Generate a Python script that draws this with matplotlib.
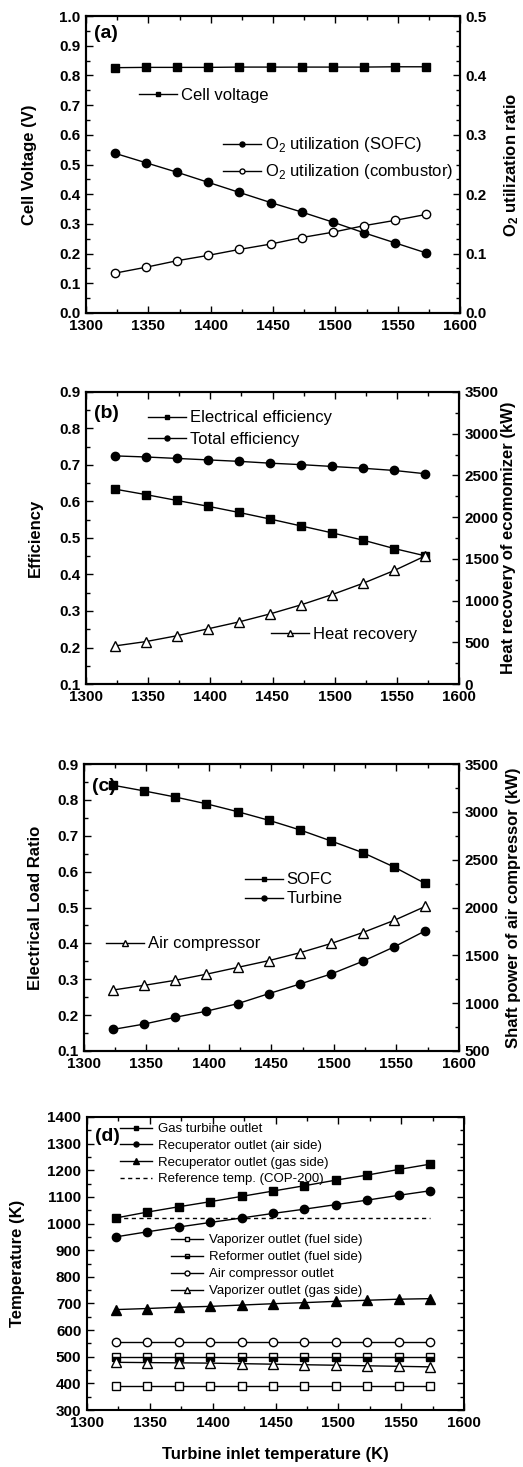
import matplotlib
matplotlib.use('Agg')
from matplotlib import pyplot as plt
from matplotlib.legend import Legend
from matplotlib.ticker import MultipleLocator

plt.rcParams['font.family'] = ['Liberation Sans', 'DejaVu Sans']
plt.rcParams['mathtext.fontset'] = 'custom'
plt.rcParams['mathtext.rm'] = 'Liberation Sans'
plt.rcParams['mathtext.bf'] = 'Liberation Sans:bold'

# turbine inlet temperature (K)
T = [1323, 1348, 1373, 1398, 1423, 1448, 1473, 1498, 1523, 1548, 1573]

# (a)
cell_v = [0.826, 0.827, 0.827, 0.827, 0.828, 0.828, 0.828, 0.828, 0.828, 0.829, 0.829]
o2_sofc = [0.269, 0.253, 0.237, 0.220, 0.203, 0.186, 0.170, 0.153, 0.135, 0.118, 0.101]
o2_comb = [0.067, 0.077, 0.088, 0.097, 0.107, 0.116, 0.127, 0.136, 0.147, 0.156, 0.166]

# (b)
eff_el = [0.634, 0.619, 0.603, 0.587, 0.570, 0.552, 0.533, 0.514, 0.494, 0.471, 0.451]
eff_tot = [0.725, 0.722, 0.718, 0.714, 0.710, 0.705, 0.701, 0.696, 0.691, 0.685, 0.676]
heat_rec = [456, 508, 578, 661, 744, 840, 949, 1072, 1208, 1361, 1536]

# (c)
load_sofc = [0.841, 0.825, 0.808, 0.789, 0.767, 0.743, 0.716, 0.685, 0.653, 0.613, 0.567]
load_turb = [0.160, 0.175, 0.194, 0.211, 0.232, 0.260, 0.287, 0.315, 0.350, 0.390, 0.435]
comp_power = [1137, 1186, 1239, 1303, 1374, 1445, 1528, 1625, 1738, 1865, 2011]

# (d)
t_gt = [1021, 1043, 1063, 1082, 1102, 1122, 1142, 1163, 1182, 1203, 1223]
t_rec_air = [950, 969, 987, 1004, 1021, 1038, 1054, 1071, 1088, 1106, 1123]
t_rec_gas = [677, 681, 686, 689, 694, 699, 703, 708, 712, 716, 718]
t_ref = 1021
t_vap_fuel = [390, 390, 390, 390, 390, 390, 390, 390, 390, 390, 390]
t_reform = [500, 500, 500, 500, 500, 500, 500, 500, 500, 500, 500]
t_comp = [554, 554, 554, 554, 554, 554, 554, 554, 554, 554, 554]
t_vap_gas = [479, 478, 477, 476, 474, 472, 470, 468, 466, 464, 462]

W, H = 523, 1467
fig = plt.figure(figsize=(W/100, H/100), dpi=100)

def rect(l, r, t, b):
    return [l/W, 1-b/H, (r-l)/W, (b-t)/H]

TICK_FS = 11
LAB_FS = 12

def style(ax, ymaj, ymin, left=True, right=False):
    ax.tick_params(which='both', direction='in', top=True, width=1, labelsize=TICK_FS, pad=4,
                   left=left, right=right, labelleft=left, labelright=right and not left)
    ax.tick_params(which='major', length=5)
    ax.tick_params(which='minor', length=3)
    ax.xaxis.set_major_locator(MultipleLocator(50))
    ax.xaxis.set_minor_locator(MultipleLocator(25))
    ax.yaxis.set_major_locator(MultipleLocator(ymaj))
    ax.yaxis.set_minor_locator(MultipleLocator(ymin))
    for s in ax.spines.values():
        s.set_linewidth(1.5)
    for lab in ax.get_xticklabels() + ax.get_yticklabels():
        lab.set_fontweight('bold')

def leg(ax, line, label, x, y, fs=12, hl=2.3, tp=0.2, ms=0.6):
    l = Legend(ax, [line], [label], loc='center left', bbox_to_anchor=(x, y), frameon=False,
               borderpad=0, borderaxespad=0, handlelength=hl, handletextpad=tp,
               fontsize=fs, markerscale=ms)
    ax.add_artist(l)

kw = dict(color='black', lw=1, mec='black', mew=1)

# ---------- (a)
ax = fig.add_axes(rect(86, 460, 16, 313))
ax2 = ax.twinx()
l1, = ax.plot(T, cell_v, marker='s', ms=5.5, mfc='black', **kw)
l2, = ax2.plot(T, o2_sofc, marker='o', ms=6, mfc='black', **kw)
l3, = ax2.plot(T, o2_comb, marker='o', ms=6, mfc='white', **kw)
ax.set_xlim(1300, 1600)
ax.set_ylim(0, 1.0)
ax2.set_ylim(0, 0.5)
style(ax, 0.1, 0.05)
style(ax2, 0.1, 0.025, left=False, right=True)
ax.set_ylabel('Cell Voltage (V)', fontsize=LAB_FS, fontweight='bold')
ax2.set_ylabel(r'$\mathbf{O_2}$ utilization ratio', fontsize=LAB_FS, fontweight='bold')
ax.yaxis.set_label_coords(-0.13, 0.5)
ax2.yaxis.set_label_coords(1.112, 0.5)
ax.text(0.021, 0.94, '(a)', transform=ax.transAxes, fontsize=14, fontweight='bold', va='center')
leg(ax2, l1, 'Cell voltage', 0.142, 0.734)
leg(ax2, l2, r'O$_2$ utilization (SOFC)', 0.366, 0.566)
leg(ax2, l3, r'O$_2$ utilization (combustor)', 0.366, 0.475)

# ---------- (b)
ax = fig.add_axes(rect(86, 459, 392, 684))
ax2 = ax.twinx()
l1, = ax.plot(T, eff_el, marker='s', ms=5.5, mfc='black', **kw)
l2, = ax.plot(T, eff_tot, marker='o', ms=6, mfc='black', **kw)
l3, = ax2.plot(T, heat_rec, marker='^', ms=6.5, mfc='white', **kw)
ax.set_xlim(1300, 1600)
ax.set_ylim(0.1, 0.9)
ax2.set_ylim(0, 3500)
style(ax, 0.1, 0.05)
style(ax2, 500, 250, left=False, right=True)
ax.set_ylabel('Efficiency', fontsize=LAB_FS, fontweight='bold')
ax2.set_ylabel('Heat recovery of ecomomizer (kW)', fontsize=LAB_FS, fontweight='bold')
ax.yaxis.set_label_coords(-0.115, 0.5)
ax2.yaxis.set_label_coords(1.113, 0.5)
ax.text(0.021, 0.928, '(b)', transform=ax.transAxes, fontsize=14, fontweight='bold', va='center')
leg(ax2, l1, 'Electrical efficiency', 0.166, 0.911)
leg(ax2, l2, 'Total efficiency', 0.166, 0.839)
leg(ax2, l3, 'Heat recovery', 0.496, 0.171)

# ---------- (c)
ax = fig.add_axes(rect(84, 459, 764, 1051))
ax2 = ax.twinx()
l1, = ax.plot(T, load_sofc, marker='s', ms=5.5, mfc='black', **kw)
l2, = ax.plot(T, load_turb, marker='o', ms=6, mfc='black', **kw)
l3, = ax2.plot(T, comp_power, marker='^', ms=6.5, mfc='white', **kw)
ax.set_xlim(1300, 1600)
ax.set_ylim(0.1, 0.9)
ax2.set_ylim(500, 3500)
style(ax, 0.1, 0.05)
style(ax2, 500, 250, left=False, right=True)
ax.set_ylabel('Electrical Load Ratio', fontsize=LAB_FS, fontweight='bold')
ax2.set_ylabel('Shaft power of air compressor (kW)', fontsize=LAB_FS, fontweight='bold')
ax.yaxis.set_label_coords(-0.109, 0.5)
ax2.yaxis.set_label_coords(1.125, 0.5)
ax.text(0.021, 0.923, '(c)', transform=ax.transAxes, fontsize=14, fontweight='bold', va='center')
leg(ax2, l1, 'SOFC', 0.429, 0.596)
leg(ax2, l2, 'Turbine', 0.429, 0.530)
leg(ax2, l3, 'Air compressor', 0.059, 0.373)

# ---------- (d)
ax = fig.add_axes(rect(87, 464, 1117, 1410))
d1, = ax.plot(T, t_gt, marker='s', ms=5.5, mfc='black', **kw)
d2, = ax.plot(T, t_rec_air, marker='o', ms=6, mfc='black', **kw)
d3, = ax.plot(T, t_rec_gas, marker='^', ms=6.5, mfc='black', **kw)
d4, = ax.plot([T[0], T[-1]], [t_ref, t_ref], color='black', lw=1, ls=(0, (3, 2.5)))
d5, = ax.plot(T, t_vap_fuel, marker='s', ms=5.5, mfc='white', **kw)
d6, = ax.plot(T, t_reform, marker='s', ms=5.5, mfc='black', fillstyle='bottom',
              markerfacecoloralt='white', **kw)
d7, = ax.plot(T, t_comp, marker='o', ms=6, mfc='white', **kw)
d8, = ax.plot(T, t_vap_gas, marker='^', ms=6.5, mfc='white', **kw)
ax.set_xlim(1300, 1600)
ax.set_ylim(300, 1400)
style(ax, 100, 50)
ax.tick_params(which='both', right=True, labelright=False)
ax.set_ylabel('Temperature (K)', fontsize=LAB_FS, fontweight='bold')
ax.set_xlabel('Turbine inlet temperature (K)', fontsize=LAB_FS, fontweight='bold')
ax.yaxis.set_label_coords(-0.164, 0.5)
ax.xaxis.set_label_coords(0.5, -0.126)
ax.text(0.021, 0.935, '(d)', transform=ax.transAxes, fontsize=14, fontweight='bold', va='center')
rows1 = [(d1, 'Gas turbine outlet'), (d2, 'Recuperator outlet (air side)'),
         (d3, 'Recuperator outlet (gas side)'), (d4, 'Reference temp. (COP-200)')]
for i, (h, lab) in enumerate(rows1):
    leg(ax, h, lab, 0.088, 0.959 - i*0.057, fs=9.5, hl=2.4, tp=0.45)
rows2 = [(d5, 'Vaporizer outlet (fuel side)'), (d6, 'Reformer outlet (fuel side)'),
         (d7, 'Air compressor outlet'), (d8, 'Vaporizer outlet (gas side)')]
for i, (h, lab) in enumerate(rows2):
    leg(ax, h, lab, 0.223, 0.580 - i*0.058, fs=9.5, hl=2.4, tp=0.45)

plt.savefig('out.png', dpi=100)
